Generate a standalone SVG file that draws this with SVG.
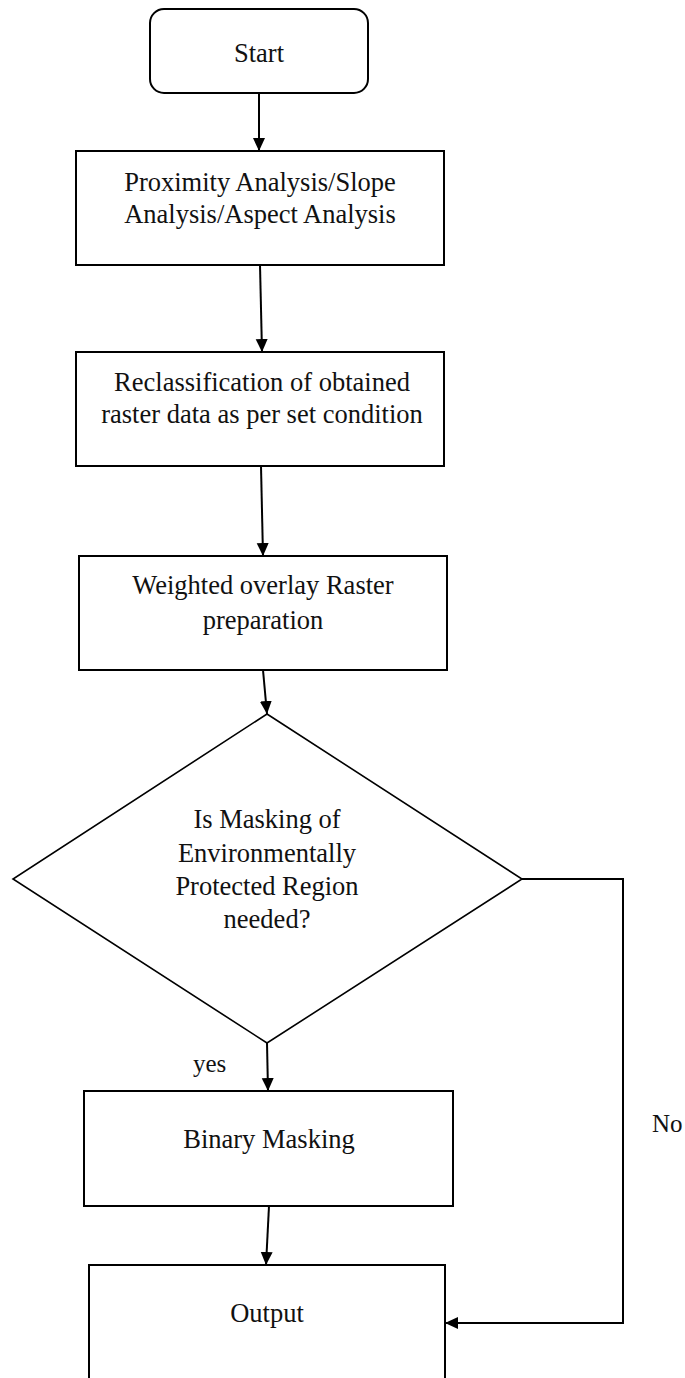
<svg xmlns="http://www.w3.org/2000/svg" width="685" height="1378" viewBox="0 0 685 1378">
  <style>
    .box { fill: #ffffff; stroke: #000000; stroke-width: 2; }
    .dia { fill: #ffffff; stroke: #000000; stroke-width: 1.6; }
    .lbl { font-family: "Liberation Serif", "Times New Roman", serif; font-size: 26.5px; fill: #111111; text-anchor: middle; }
    .note { font-family: "Liberation Serif", "Times New Roman", serif; font-size: 25px; fill: #111111; }
    .edge { fill: none; stroke: #000000; stroke-width: 2; }
  </style>
  <defs>
    <marker id="arrow" markerUnits="userSpaceOnUse" markerWidth="14" markerHeight="14" refX="13" refY="6" orient="auto">
      <path d="M0,0 L13,6 L0,12 Z" fill="#000000"/>
    </marker>
  </defs>
  <rect width="685" height="1378" fill="#ffffff"/>

  <g id="start">
    <rect class="box" x="150" y="9" width="218" height="84" rx="14" ry="14"/>
    <text class="lbl" x="259" y="62">Start</text>
  </g>

  <g id="analysis">
    <rect class="box" x="76" y="151" width="368" height="114"/>
    <text class="lbl" x="260" y="191">Proximity Analysis/Slope</text>
    <text class="lbl" x="260" y="223">Analysis/Aspect Analysis</text>
  </g>

  <g id="reclassify">
    <rect class="box" x="76" y="352" width="368" height="114"/>
    <text class="lbl" x="262" y="391">Reclassification of obtained</text>
    <text class="lbl" x="262" y="423">raster data as per set condition</text>
  </g>

  <g id="overlay">
    <rect class="box" x="79" y="556" width="368" height="114"/>
    <text class="lbl" x="263" y="594">Weighted overlay Raster</text>
    <text class="lbl" x="263" y="629">preparation</text>
  </g>

  <g id="decision">
    <polygon class="dia" points="267,714 522,879 267,1043 13,879"/>
    <text class="lbl" x="267" y="828">Is Masking of</text>
    <text class="lbl" x="267" y="862">Environmentally</text>
    <text class="lbl" x="267" y="895">Protected Region</text>
    <text class="lbl" x="267" y="928">needed?</text>
  </g>

  <g id="masking">
    <rect class="box" x="84" y="1091" width="369" height="115"/>
    <text class="lbl" x="269" y="1148">Binary Masking</text>
  </g>

  <g id="output">
    <path class="box" d="M89,1380 L89,1265 L445,1265 L445,1380"/>
    <text class="lbl" x="267" y="1322">Output</text>
  </g>

  <g id="connectors">
    <line class="edge" x1="259" y1="93" x2="259" y2="151" marker-end="url(#arrow)"/>
    <line class="edge" x1="260" y1="265" x2="262" y2="352" marker-end="url(#arrow)"/>
    <line class="edge" x1="261" y1="466" x2="263" y2="556" marker-end="url(#arrow)"/>
    <line class="edge" x1="263" y1="670" x2="267" y2="714" marker-end="url(#arrow)"/>
    <line class="edge" x1="267" y1="1043" x2="268" y2="1091" marker-end="url(#arrow)"/>
    <line class="edge" x1="269" y1="1206" x2="266" y2="1265" marker-end="url(#arrow)"/>
    <polyline class="edge" points="522,879 623,879 623,1323 445,1323" marker-end="url(#arrow)"/>
    <text class="note" x="193" y="1072">yes</text>
    <text class="note" x="652" y="1132">No</text>
  </g>
</svg>
